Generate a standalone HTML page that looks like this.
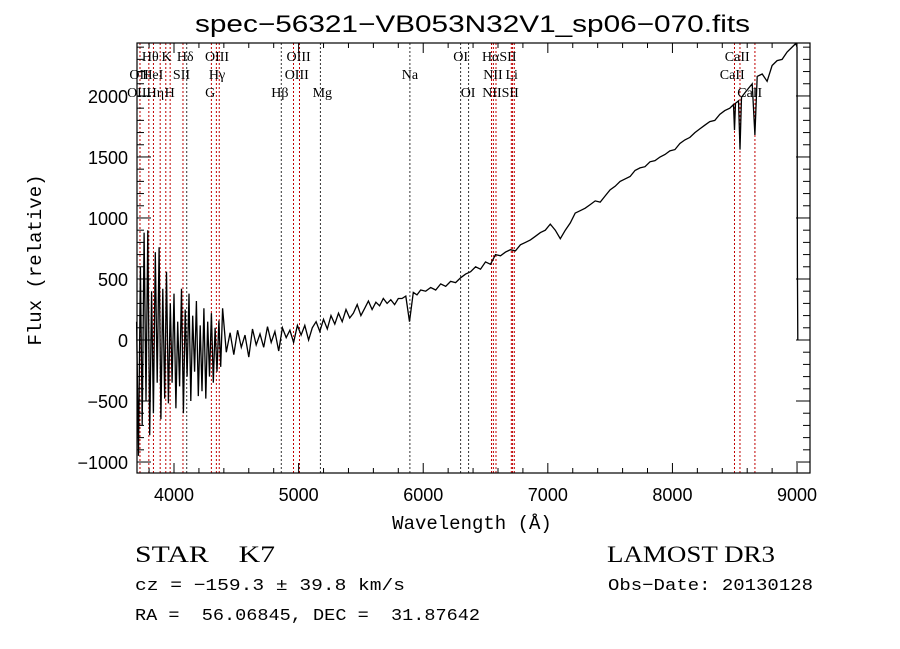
<!DOCTYPE html>
<html><head><meta charset="utf-8"><style>
html,body{margin:0;padding:0;background:#fff;width:900px;height:649px;overflow:hidden}
svg{display:block}
text{white-space:pre}
</style></head><body>
<svg id="chart" width="900" height="649" viewBox="0 0 900 649" xmlns="http://www.w3.org/2000/svg" font-family="Liberation Sans, sans-serif" xml:space="preserve">
<rect width="900" height="649" fill="#fff"/>
<text x="195" y="32" font-size="24" textLength="555" lengthAdjust="spacingAndGlyphs">spec−56321−VB053N32V1_sp06−070.fits</text>
<g id="lines"></g>
<g id="linelabels" font-family="Liberation Serif, serif" font-size="14"></g>
<path id="spec" fill="none" stroke="#000" stroke-width="1.3"/>
<rect x="137" y="43" width="673" height="430" fill="none" stroke="#000" stroke-width="1.2"/>
<g id="ticks" stroke="#000" stroke-width="1"></g>
<g id="ticklabels" font-size="18"></g>
<text transform="translate(41,260) rotate(-90)" font-size="19" text-anchor="middle" font-family="Liberation Mono, monospace">Flux (relative)</text>
<text x="472" y="529" font-size="19" text-anchor="middle" font-family="Liberation Mono, monospace">Wavelength (Å)</text>
<text x="135" y="562" font-size="23" font-family="Liberation Serif, serif" textLength="140" lengthAdjust="spacingAndGlyphs">STAR    K7</text>
<text x="607" y="562" font-size="23" font-family="Liberation Serif, serif" textLength="168" lengthAdjust="spacingAndGlyphs">LAMOST DR3</text>
<text x="135" y="590" font-size="17" font-family="Liberation Mono, monospace" textLength="270" lengthAdjust="spacingAndGlyphs">cz = −159.3 ± 39.8 km/s</text>
<text x="608" y="590" font-size="17" font-family="Liberation Mono, monospace" textLength="205" lengthAdjust="spacingAndGlyphs">Obs−Date: 20130128</text>
<text x="135" y="620" font-size="17" font-family="Liberation Mono, monospace" textLength="345" lengthAdjust="spacingAndGlyphs">RA =  56.06845, DEC =  31.87642</text>
</svg>
<script>
const wave = [3700,3715,3730,3745,3760,3775,3790,3805,3820,3835,3850,3865,3880,3895,3910,3925,3940,3955,3970,3985,4000,4015,4030,4045,4060,4075,4090,4105,4120,4135,4150,4165,4180,4195,4210,4225,4240,4255,4270,4285,4300,4315,4330,4345,4360,4375,4390,
4420,4450,4480,4510,4540,4570,4600,4630,4660,4690,4720,4750,4780,4810,4840,4870,4900,4930,4960,4990,5020,5050,5080,5110,5140,5170,5200,5230,5260,5290,5320,5350,5380,5410,5440,5470,5500,5530,5560,5590,5620,5650,5680,5710,5740,5770,5800,5830,5860,5890,5920,5950,5980,
6020,6060,6100,6140,6180,6220,6260,6300,6340,6380,6420,6460,6500,6540,6580,6620,6660,6700,6740,6780,6820,6860,6900,6940,6980,7020,7060,7100,7140,7180,7220,7260,7300,7340,7380,7420,7460,7500,7540,7580,7620,7660,7700,7740,7780,7820,7860,7900,7940,7980,8020,8060,8100,8140,8180,8220,8260,8300,8340,8380,8420,8460,8490,8498,8506,8530,8542,8554,8600,8640,8662,8680,8720,8760,8800,8840,8880,8920,8960,8990,9000,9003,9006];
const flux = [150,-950,600,-700,880,-500,900,-780,400,-600,720,-350,760,-650,420,-480,560,-520,300,-350,380,-560,150,-380,420,-600,250,-300,380,-500,200,-260,320,-460,120,-420,260,-480,150,-300,220,-350,100,-260,160,-220,260,
-100,60,-120,80,-60,40,-140,90,-40,50,-60,110,-20,70,-90,100,20,80,-20,120,40,120,0,100,150,70,170,90,200,130,220,150,250,180,220,290,200,260,320,250,310,280,340,300,330,290,340,340,360,150,390,370,410,
400,430,410,460,440,480,470,510,540,560,600,580,640,620,700,690,720,740,730,780,800,820,850,880,900,950,900,830,900,960,1040,1060,1080,1110,1140,1130,1180,1230,1260,1300,1320,1340,1390,1410,1420,1460,1470,1500,1520,1550,1560,1610,1640,1660,1700,1730,1760,1790,1800,1850,1880,1900,1930,1720,1940,1960,1560,1990,2050,2100,1680,2160,2180,2120,2250,2290,2300,2360,2400,2430,2400,600,0];
const lineWaves = [3727,3798,3835,3889,3934,3969,4072,4102,4300,4340,4363,4861,4959,5007,5175,5893,6300,6364,6548,6563,6584,6707,6717,6731,8498,8542,8662];
const lineDark = [0,0,0,0,0,0,0,1,0,0,0,1,0,0,1,1,1,1,0,0,0,0,0,0,0,0,0];
const labelText = ["Hθ","K","Hδ","OIII","OIII","OI","HαSII","CaII","OII","HeI","SII","Hγ","OIII","Na","NII","Li","CaII","OIII","Hη","H","G","Hβ","Mg","OI","NIISII","CaII"];
const labelWave = [3810,3940,4090,4345,5000,6300,6610,8520,3720,3830,4060,4345,4985,5893,6560,6710,8480,3720,3850,3965,4290,4850,5190,6360,6620,8620];
const labelRow = [0,0,0,0,0,0,0,0,1,1,1,1,1,1,1,1,1,2,2,2,2,2,2,2,2,2];
const xTicks = [4000,5000,6000,7000,8000,9000];
const yTicks = [-1000,-500,0,500,1000,1500,2000];

const X0=137,X1=810,Y0=43,Y1=473,WMIN=3703,WMAX=9104,FMIN=-1090,FMAX=2434;
const xs = w => X0+(w-WMIN)/(WMAX-WMIN)*(X1-X0);
const ys = f => Y1-(f-FMIN)/(FMAX-FMIN)*(Y1-Y0);
const NS="http://www.w3.org/2000/svg";
function mk(tag,attrs,parent){const e=document.createElementNS(NS,tag);for(const k in attrs)e.setAttribute(k,attrs[k]);parent.appendChild(e);return e;}

let d="";
for(let i=0;i<wave.length;i++){d+=(i?"L":"M")+xs(wave[i]).toFixed(1)+","+ys(Math.max(FMIN,Math.min(FMAX,flux[i]))).toFixed(1);}
document.getElementById('spec').setAttribute('d',d);

const lg=document.getElementById('lines');
lineWaves.forEach((w,i)=>{
  const l=mk('line',{x1:xs(w),x2:xs(w),y1:Y0,y2:Y1,stroke:lineDark[i]?'#333':'#c00000','stroke-width':1,'stroke-dasharray':'2,2'},lg);
  
  
});
const ll=document.getElementById('linelabels');
labelText.forEach((t,i)=>{
  const e=mk('text',{x:xs(labelWave[i]),y:61+labelRow[i]*18,'text-anchor':'middle'},ll);
  e.textContent=t;
  
  
});

const tg=document.getElementById('ticks'), tl=document.getElementById('ticklabels');
for(let w=3800;w<=9100;w+=200){
  const major=w%1000===0, L=major?10:5;
  mk('line',{x1:xs(w),x2:xs(w),y1:Y1,y2:Y1-L},tg);
  mk('line',{x1:xs(w),x2:xs(w),y1:Y0,y2:Y0+L},tg);
}
for(let f=-1000;f<=2400;f+=100){
  const major=f%500===0, L=major?14:7;
  mk('line',{x1:X0,x2:X0+L,y1:ys(f),y2:ys(f)},tg);
  mk('line',{x1:X1,x2:X1-L,y1:ys(f),y2:ys(f)},tg);
}
xTicks.forEach(v=>{
  const e=mk('text',{x:xs(v),y:501,'text-anchor':'middle'},tl);
  e.textContent=v;
  
  
});
yTicks.forEach(v=>{
  const e=mk('text',{x:128,y:ys(v)+7,'text-anchor':'end'},tl);
  e.textContent=v<0?'−'+(-v):v;
  
  
});
</script>
</body></html>
